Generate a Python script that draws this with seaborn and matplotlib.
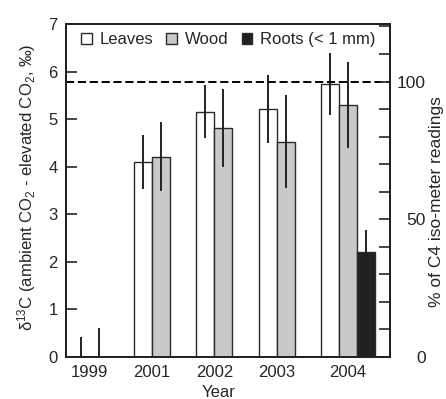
import numpy as np
import pandas as pd
import matplotlib
matplotlib.use("Agg")
import matplotlib.pyplot as plt
from matplotlib.ticker import MultipleLocator, FixedLocator, NullFormatter
import seaborn as sns

# ---- data ----
years = ["1999", "2001", "2002", "2003", "2004"]
tissues = ["Leaves", "Wood", "Roots (< 1 mm)"]
leaves = [0.0, 4.10, 5.16, 5.21, 5.74]
leaves_err = [0.42, 0.56, 0.55, 0.72, 0.65]
wood = [0.0, 4.21, 4.81, 4.53, 5.30]
wood_err = [0.61, 0.72, 0.82, 0.98, 0.90]
roots = [np.nan, np.nan, np.nan, np.nan, 2.21]
roots_err = [np.nan, np.nan, np.nan, np.nan, 0.46]
ref_line = 5.79          # 100 % of C4 iso-meter readings
right_ticks = [0, 50, 100]

colors = ["#ffffff", "#c9c9c9", "#231f20"]

rows = []
for vals, errs, t in [(leaves, leaves_err, tissues[0]),
                      (wood, wood_err, tissues[1]),
                      (roots, roots_err, tissues[2])]:
    for y, v, e in zip(years, vals, errs):
        if not np.isnan(v):
            rows.append({"Year": y, "Tissue": t, "value": v, "err": e})
df = pd.DataFrame(rows)

sns.set_style("ticks")
plt.rcParams["font.family"] = ["Liberation Sans", "DejaVu Sans"]
plt.rcParams["mathtext.fontset"] = "custom"
plt.rcParams["mathtext.rm"] = "Liberation Sans"
plt.rcParams["mathtext.it"] = "Liberation Sans:italic"
plt.rcParams["mathtext.bf"] = "Liberation Sans:bold"

fig = plt.figure(figsize=(4.46, 3.99), dpi=100)
ax = fig.add_axes([66 / 446, 42 / 399, 324 / 446, 333 / 399])

sns.barplot(data=df, x="Year", y="value", hue="Tissue", order=years,
            hue_order=tissues, palette=colors, width=0.867, gap=0,
            edgecolor="#2a2a2a", linewidth=1.0, errorbar=None, ax=ax,
            zorder=2)

# error bars from the drawn bars
err_lookup = {(r.Tissue, r.Year): r.err for r in df.itertuples()}
centers = {y: [] for y in years}
for tissue, cont in zip(tissues, ax.containers):
    for bar in cont:
        h = bar.get_height()
        if np.isnan(h):
            continue
        xc = bar.get_x() + bar.get_width() / 2
        yr = years[int(round(xc))]
        centers[yr].append(xc)
        e = err_lookup[(tissue, yr)]
        ax.errorbar(xc, h, yerr=e, fmt="none", ecolor="#222222",
                    elinewidth=1.4, capsize=0, zorder=3)

ax.axhline(ref_line, color="black", lw=1.4, ls=(0, (4.2, 1.9)), zorder=4)

ax.set_ylim(0, 7)
ax.set_xlim(-0.525, 4.676)
ax.yaxis.set_major_locator(MultipleLocator(1))
ax.set_xticks([np.mean(centers[y]) for y in years])
ax.set_xticklabels(years)
ax.tick_params(axis="x", length=0, pad=6, labelsize=12)
ax.tick_params(axis="y", direction="in", length=8, width=1.2, pad=6,
               labelsize=12)
for s in ax.spines.values():
    s.set_linewidth(1.4)
    s.set_color("#222222")

ax.set_xlabel("Year", fontsize=12, labelpad=1)
ax.xaxis.set_label_coords(0.472, -0.085)
ax.set_ylabel("δ$^{13}$C (ambient CO$_2$ - elevated CO$_2$, ‰)",
              fontsize=12, ha="center", va="center")
ax.yaxis.set_label_coords(-0.123, 0.509)

# right axis
ax2 = ax.twinx()
ax2.set_ylim(0, 100 * 7 / ref_line)
ax2.yaxis.set_major_locator(FixedLocator(right_ticks))
ax2.yaxis.set_minor_locator(MultipleLocator(10))
ax2.yaxis.set_minor_formatter(NullFormatter())
ax2.tick_params(axis="y", which="both", direction="in", length=8,
                width=1.2, labelsize=12.5, pad=26)
for lbl in ax2.get_yticklabels():
    lbl.set_ha("right")
ax2.set_ylabel("% of C4 iso-meter readings", fontsize=12.5,
               ha="center", va="center")
ax2.yaxis.set_label_coords(1.143, 0.467)
for s in ax2.spines.values():
    s.set_linewidth(1.4)
    s.set_color("#222222")

# legend
handles, labels = ax.get_legend_handles_labels()
ax.legend(handles, labels, loc="upper left", ncol=3, frameon=False,
          fontsize=12, handlelength=0.65, handleheight=0.65,
          handletextpad=0.45, columnspacing=0.8,
          bbox_to_anchor=(0.015, 1.005), borderaxespad=0.2)

fig.savefig("out.png", dpi=100)
